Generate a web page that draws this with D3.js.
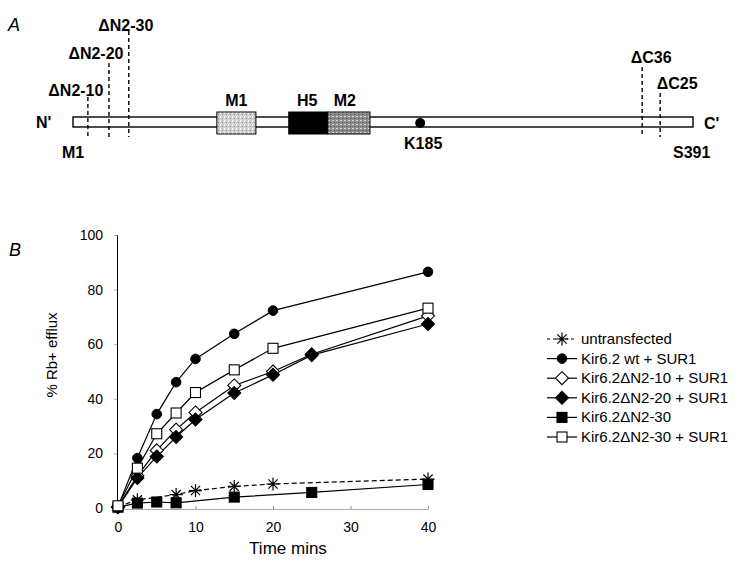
<!DOCTYPE html>
<html><head><meta charset="utf-8">
<script src="https://d3js.org/d3.v7.min.js"></script>
<style>body{margin:0;background:#fff}svg{display:block;font-family:"Liberation Sans",Arial,sans-serif}</style>
</head><body><svg id="c" width="740" height="566"></svg>
<script>
const timeTicks = [0, 10, 20, 30, 40];
const effluxTicks = [0, 20, 40, 60, 80, 100];
const seriesNames = ["untransfected", "Kir6.2 wt + SUR1", "Kir6.2\u0394N2-10 + SUR1", "Kir6.2\u0394N2-20 + SUR1", "Kir6.2\u0394N2-30", "Kir6.2\u0394N2-30 + SUR1"];
const untransfectedT = [0, 2.5, 7.5, 10, 15, 20, 40];
const untransfectedV = [0.5, 3.0, 4.9, 6.4, 7.9, 8.8, 10.6];
const wtT = [0, 2.5, 5, 7.5, 10, 15, 20, 40];
const wtV = [0.5, 18.3, 34.4, 46.1, 54.6, 63.8, 72.3, 86.5];
const dN10T = [0, 2.5, 5, 7.5, 10, 15, 20, 25, 40];
const dN10V = [0.5, 11.8, 21.1, 28.7, 35.0, 44.9, 50.0, 56.3, 70.4];
const dN20T = [0, 2.5, 5, 7.5, 10, 15, 20, 25, 40];
const dN20V = [0.3, 11.0, 18.9, 26.0, 32.4, 42.1, 48.8, 56.0, 67.4];
const dN30T = [0, 2.5, 5, 7.5, 15, 25, 40];
const dN30V = [0.3, 1.8, 2.2, 1.9, 4.0, 5.7, 8.6];
const dN30sT = [0, 2.5, 5, 7.5, 10, 15, 20, 40];
const dN30sV = [0.8, 14.6, 27.2, 34.8, 42.3, 50.6, 58.5, 73.2];
// Panel A schematic: positions along the (not-to-scale) Kir6.2 drawing, N' = 0 ... C' = 100
const schematicDomain = [0, 100];
const deletionNames = ["\u0394N2-10", "\u0394N2-20", "\u0394N2-30"];
const deletionPos = [2.4, 5.8, 9.0];
const cDeletionNames = ["\u0394C36", "\u0394C25"];
const cDeletionPos = [91.8, 94.7];
const domainNames = ["M1", "H5", "M2"];
const domainStart = [23.2, 34.8, 41.1];
const domainEnd = [29.5, 41.1, 47.9];
const markerName = "K185";
const markerPos = 56.0;

const svg = d3.select("#c");

// ---------- Panel A ----------
const ax = d3.scaleLinear().domain(schematicDomain).range([73, 693]);
svg.append("text").attr("x", 8).attr("y", 31).attr("font-size", 18).attr("font-style", "italic").text("A");
const barY = 117, barH = 10;
svg.append("rect").attr("x", ax(schematicDomain[0])).attr("y", barY).attr("width", ax(schematicDomain[1]) - ax(schematicDomain[0])).attr("height", barH)
  .attr("fill", "#fff").attr("stroke", "#000").attr("stroke-width", 1.4);
const defs = svg.append("defs");
const p1 = defs.append("pattern").attr("id", "stip1").attr("width", 4).attr("height", 4).attr("patternUnits", "userSpaceOnUse");
p1.append("rect").attr("width", 4).attr("height", 4).attr("fill", "#d0d0d0");
p1.append("rect").attr("x", 0).attr("y", 0).attr("width", 1).attr("height", 2).attr("fill", "#fff");
p1.append("rect").attr("x", 2).attr("y", 2).attr("width", 1).attr("height", 1).attr("fill", "#8a8a8a");
const p2 = defs.append("pattern").attr("id", "stip2").attr("width", 4).attr("height", 4).attr("patternUnits", "userSpaceOnUse");
p2.append("rect").attr("width", 4).attr("height", 4).attr("fill", "#8c8c8c");
p2.append("rect").attr("x", 0).attr("y", 0).attr("width", 2).attr("height", 1).attr("fill", "#d5d5d5");
p2.append("rect").attr("x", 2).attr("y", 2).attr("width", 1).attr("height", 1).attr("fill", "#505050");
const domainFills = ["url(#stip1)", "#000", "url(#stip2)"];
const domainLabDx = [0, -1, -4];
domainNames.forEach((n, i) => {
  svg.append("rect").attr("x", ax(domainStart[i])).attr("y", 112).attr("width", ax(domainEnd[i]) - ax(domainStart[i])).attr("height", 22)
    .attr("fill", domainFills[i]).attr("stroke", "#000").attr("stroke-width", 1);
  svg.append("text").attr("x", (ax(domainStart[i]) + ax(domainEnd[i])) / 2 + domainLabDx[i]).attr("y", 106).attr("text-anchor", "middle")
    .attr("font-size", 16).attr("font-weight", "bold").text(n);
});
svg.append("circle").attr("cx", ax(markerPos)).attr("cy", 123).attr("r", 5).attr("fill", "#000");
svg.append("text").attr("x", ax(markerPos) + 3).attr("y", 149).attr("text-anchor", "middle").attr("font-size", 16).attr("font-weight", "bold").text(markerName);
const nTop = [97, 63, 31];
const nLabY = [96, 59, 31];
const nLabDx = [-12, -13, -3];
deletionPos.forEach((r, i) => {
  const xx = ax(r);
  svg.append("line").attr("x1", xx).attr("x2", xx).attr("y1", nTop[i]).attr("y2", 137).attr("stroke", "#000").attr("stroke-width", 1.4).attr("stroke-dasharray", "4,3");
  svg.append("text").attr("x", xx + nLabDx[i]).attr("y", nLabY[i]).attr("text-anchor", "middle").attr("font-size", 16).attr("font-weight", "bold").text(deletionNames[i]);
});
const cTop = [67, 93];
const cLabY = [63, 89];
const cLabDx = [9, 17];
cDeletionPos.forEach((r, i) => {
  const xx = ax(r);
  svg.append("line").attr("x1", xx).attr("x2", xx).attr("y1", cTop[i]).attr("y2", 137).attr("stroke", "#000").attr("stroke-width", 1.4).attr("stroke-dasharray", "4,3");
  svg.append("text").attr("x", xx + cLabDx[i]).attr("y", cLabY[i]).attr("text-anchor", "middle").attr("font-size", 16).attr("font-weight", "bold").text(cDeletionNames[i]);
});
svg.append("text").attr("x", 36).attr("y", 128).attr("font-size", 16).attr("font-weight", "bold").text("N'");
svg.append("text").attr("x", 704).attr("y", 129).attr("font-size", 16).attr("font-weight", "bold").text("C'");
svg.append("text").attr("x", 62).attr("y", 158).attr("font-size", 16).attr("font-weight", "bold").text("M1");
svg.append("text").attr("x", 673).attr("y", 158).attr("font-size", 16).attr("font-weight", "bold").text("S391");

// ---------- Panel B ----------
svg.append("text").attr("x", 9).attr("y", 256).attr("font-size", 18).attr("font-style", "italic").text("B");
const x = d3.scaleLinear().domain([0, 40]).range([118, 428]);
const y = d3.scaleLinear().domain([0, 100]).range([508, 235]);

const yAxis = svg.append("g").attr("transform", "translate(117,0)")
  .call(d3.axisLeft(y).tickValues(effluxTicks).tickSize(3).tickPadding(11));
yAxis.select(".domain").attr("stroke", "#000").attr("stroke-width", 1);
yAxis.selectAll(".tick line").attr("stroke", "#aaa");
yAxis.selectAll("text").attr("font-size", 14).attr("font-family", "Liberation Sans, Arial, sans-serif").attr("fill", "#000");
const xAxis = svg.append("g").attr("transform", "translate(0,509)")
  .call(d3.axisBottom(x).tickValues(timeTicks).tickSizeInner(-3).tickSizeOuter(0).tickPadding(13));
xAxis.select(".domain").attr("stroke", "#aaa").attr("stroke-width", 1);
xAxis.selectAll(".tick line").attr("stroke", "#888");
xAxis.selectAll("text").attr("font-size", 14).attr("font-family", "Liberation Sans, Arial, sans-serif").attr("fill", "#000");
svg.append("text").attr("x", 288).attr("y", 554).attr("text-anchor", "middle").attr("font-size", 17).text("Time mins");
svg.append("text").attr("transform", "translate(57,355) rotate(-90)").attr("text-anchor", "middle").attr("font-size", 15).text("% Rb+ efflux");

const series = [
  {t: untransfectedT, v: untransfectedV, sym: "star", dash: "5,3"},
  {t: wtT, v: wtV, sym: "circle", fill: "#000"},
  {t: dN10T, v: dN10V, sym: "diamond", fill: "#fff"},
  {t: dN20T, v: dN20V, sym: "diamond", fill: "#000"},
  {t: dN30T, v: dN30V, sym: "square", fill: "#000"},
  {t: dN30sT, v: dN30sV, sym: "square", fill: "#fff"}
];
function drawSym(g, s, cx, cy) {
  if (s.sym === "circle") g.append("circle").attr("cx", cx).attr("cy", cy).attr("r", 4.8).attr("fill", s.fill).attr("stroke", "#000");
  else if (s.sym === "square") g.append("rect").attr("x", cx - 5).attr("y", cy - 5).attr("width", 10).attr("height", 10).attr("fill", s.fill).attr("stroke", "#000").attr("stroke-width", 1.1);
  else if (s.sym === "diamond") g.append("path").attr("d", `M${cx},${cy-6.5}L${cx+6.5},${cy}L${cx},${cy+6.5}L${cx-6.5},${cy}Z`).attr("fill", s.fill).attr("stroke", "#000").attr("stroke-width", 1.1);
  else if (s.sym === "star") {
    const r = 6.5;
    let d = "";
    for (let k = 0; k < 4; k++) {
      const a = k * Math.PI / 4;
      d += `M${cx - r*Math.cos(a)},${cy - r*Math.sin(a)}L${cx + r*Math.cos(a)},${cy + r*Math.sin(a)}`;
    }
    g.append("path").attr("d", d).attr("stroke", "#000").attr("stroke-width", 1.2).attr("fill", "none");
  }
}
const line = d3.line().x(d => x(d[0])).y(d => y(d[1]));
series.forEach(s => {
  const pts = s.t.map((t, i) => [t, s.v[i]]);
  svg.append("path").attr("d", line(pts)).attr("fill", "none").attr("stroke", "#000").attr("stroke-width", 1.2)
    .attr("stroke-dasharray", s.dash || null);
});
series.forEach(s => {
  const g = svg.append("g");
  s.t.forEach((t, i) => drawSym(g, s, x(t), y(s.v[i])));
});

const legY0 = 339, legDy = 19.6;
seriesNames.forEach((n, i) => {
  const ly = legY0 + i * legDy;
  const s = series[i];
  svg.append("line").attr("x1", 547).attr("x2", 577).attr("y1", ly).attr("y2", ly).attr("stroke", "#000").attr("stroke-width", 1.2)
    .attr("stroke-dasharray", s.dash ? "3,3" : null);
  drawSym(svg, s, 562, ly);
  svg.append("text").attr("x", 581).attr("y", ly + 5).attr("font-size", 15).text(n);
});
</script></body></html>
